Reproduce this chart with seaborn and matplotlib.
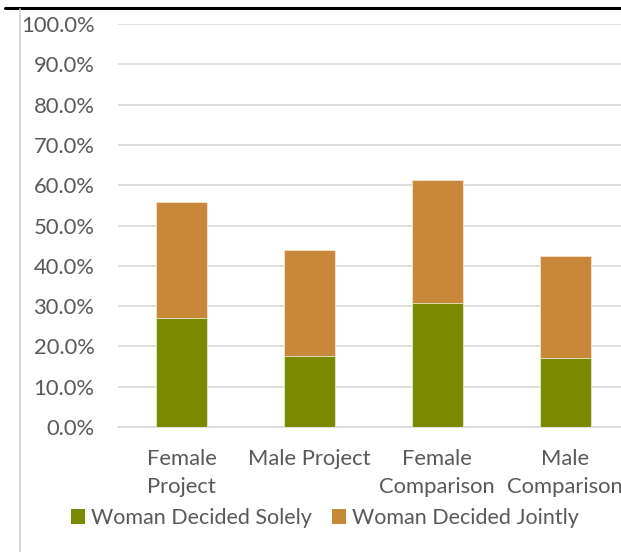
import matplotlib
matplotlib.use("Agg")
import matplotlib.pyplot as plt
from matplotlib.lines import Line2D
from matplotlib.patches import Patch
from matplotlib.ticker import PercentFormatter, FixedLocator
import seaborn as sns
import pandas as pd

categories = ["Female\nProject", "Male Project", "Female\nComparison", "Male\nComparison"]
solely = [0.270, 0.175, 0.308, 0.170]
jointly = [0.288, 0.263, 0.304, 0.254]
series_names = ["Woman Decided Solely", "Woman Decided Jointly"]

green = "#7A8A00"
orange = "#C8883A"
text_grey = "#595959"
grid_grey = "#D9D9D9"
fs = 15.8

sns.set_theme(style="white")
plt.rcParams["font.family"] = ["Lato", "DejaVu Sans"]

df = pd.DataFrame({
    "category": categories,
    "solely": solely,
    "total": [s + j for s, j in zip(solely, jointly)],
})

fig = plt.figure(figsize=(6.21, 5.52), dpi=100)
ax = fig.add_axes([118 / 621, 125 / 552, 511 / 621, 403 / 552])

sns.barplot(data=df, x="category", y="total", color=orange, width=0.4,
            edgecolor="#F3E3CC", linewidth=0.6, saturation=1, ax=ax, zorder=3)
sns.barplot(data=df, x="category", y="solely", color=green, width=0.4,
            edgecolor="#E6EBC8", linewidth=0.6, saturation=1, ax=ax, zorder=4)

ax.set_xlim(-0.5, 3.5)
ax.set_ylim(0, 1.0)
ax.set_yticks([i / 10 for i in range(11)])
ax.yaxis.set_major_formatter(PercentFormatter(1.0, decimals=1))
ax.grid(axis="y", color=grid_grey, linewidth=1.2, zorder=0)
ax.set_axisbelow(True)
ax.set_xlabel("")
ax.set_ylabel("")

for side in ["top", "right", "left"]:
    ax.spines[side].set_visible(False)
ax.spines["bottom"].set_color(grid_grey)
ax.spines["bottom"].set_linewidth(1.2)

ax.tick_params(axis="y", length=0, pad=17, labelsize=fs, labelcolor=text_grey)
ax.tick_params(axis="x", which="major", length=0, pad=16, labelsize=fs, labelcolor=text_grey)
ax.xaxis.set_minor_locator(FixedLocator([-0.5, 0.5, 1.5, 2.5, 3.5]))
ax.tick_params(axis="x", which="minor", length=5, width=1.2, color=grid_grey, direction="out")
for lbl in ax.get_xticklabels():
    lbl.set_linespacing(1.5)

handles = [Patch(facecolor=green, edgecolor="none"), Patch(facecolor=orange, edgecolor="none")]
fig.legend(handles, series_names, loc="center", bbox_to_anchor=(325 / 621, 1 - 518 / 552),
           ncol=2, frameon=False, fontsize=15.5, labelcolor=text_grey,
           handlelength=0.65, handleheight=0.65, handletextpad=0.28, columnspacing=0.95)

# chart frame edges
fig.add_artist(Line2D([5 / 621, 1], [1 - 8 / 552, 1 - 8 / 552], color="black", linewidth=2.2,
                      transform=fig.transFigure))
fig.add_artist(Line2D([20 / 621, 20 / 621], [0, 1 - 9 / 552], color="#D0D0D0", linewidth=1.2,
                      transform=fig.transFigure))

fig.savefig("out.png", dpi=100)
